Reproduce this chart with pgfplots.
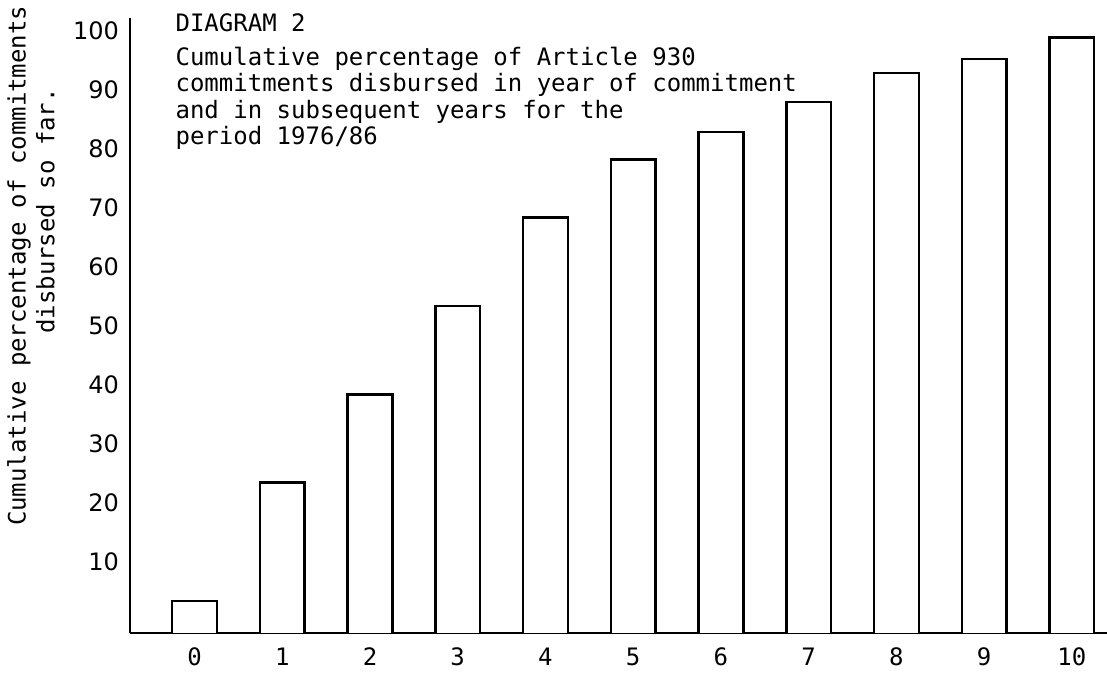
\documentclass[border=0pt]{standalone}
\usepackage{pgfplots}
\pgfplotsset{compat=1.18}
\usepackage{fontspec}
\setmainfont{DejaVu Sans Mono}
\newfontfamily\tickfont{DejaVu Sans}
\begin{document}
\begin{tikzpicture}
\useasboundingbox (0,0) rectangle (553.5pt,340pt);
\begin{axis}[
  at={(65pt,23.6pt)}, anchor=south west,
  scale only axis, width=488.5pt, height=307.4pt,
  xmin=-0.735, xmax=10.4, ymin=-2, ymax=102.2,
  axis x line=bottom, axis y line=left,
  axis line style={-, line width=1.3pt},
  major tick length=0pt,
  xtick={0,...,10}, ytick={10,20,...,100},
  /pgf/number format/assume math mode=true,
  xticklabel style={font=\fontsize{12}{12}\selectfont, yshift=-4pt},
  yticklabel style={font=\tickfont\fontsize{12}{12}\selectfont, xshift=-2pt},
  clip=false, unbounded coords=jump,
]
% each bar: bottom-left, top-left, top-right, bottom-right (bars stand on the baseline at -2)
\addplot[draw=black, fill=white, line width=1.2pt, line join=miter, mark=none] coordinates {
  (-0.255,-2) (-0.255,3.4) (0.255,3.4) (0.255,-2) (0.5,nan)
  (0.745,-2) (0.745,23.5) (1.255,23.5) (1.255,-2) (1.5,nan)
  (1.745,-2) (1.745,38.4) (2.255,38.4) (2.255,-2) (2.5,nan)
  (2.745,-2) (2.745,53.4) (3.255,53.4) (3.255,-2) (3.5,nan)
  (3.745,-2) (3.745,68.4) (4.255,68.4) (4.255,-2) (4.5,nan)
  (4.745,-2) (4.745,78.2) (5.255,78.2) (5.255,-2) (5.5,nan)
  (5.745,-2) (5.745,82.9) (6.255,82.9) (6.255,-2) (6.5,nan)
  (6.745,-2) (6.745,88) (7.255,88) (7.255,-2) (7.5,nan)
  (7.745,-2) (7.745,92.9) (8.255,92.9) (8.255,-2) (8.5,nan)
  (8.745,-2) (8.745,95.3) (9.255,95.3) (9.255,-2) (9.5,nan)
  (9.745,-2) (9.745,98.9) (10.255,98.9) (10.255,-2)
};
\node[anchor=base west, font=\fontsize{12}{12}\selectfont, inner sep=0pt] at (axis cs:-0.22,99.9) {DIAGRAM 2};
\node[anchor=base west, font=\fontsize{12}{12}\selectfont, inner sep=0pt] at (axis cs:-0.22,94.2) {Cumulative percentage of Article 930};
\node[anchor=base west, font=\fontsize{12}{12}\selectfont, inner sep=0pt] at (axis cs:-0.22,89.7) {commitments disbursed in year of commitment};
\node[anchor=base west, font=\fontsize{12}{12}\selectfont, inner sep=0pt] at (axis cs:-0.22,85.2) {and in subsequent years for the};
\node[anchor=base west, font=\fontsize{12}{12}\selectfont, inner sep=0pt] at (axis cs:-0.22,80.7) {period 1976/86};
\node[rotate=90, font=\fontsize{12}{12}\selectfont, inner sep=0pt] at (axis cs:-2.0,60.2) {Cumulative percentage of commitments};
\node[rotate=90, font=\fontsize{12}{12}\selectfont, inner sep=0pt] at (axis cs:-1.7,69.5) {disbursed so far.};
\end{axis}
\end{tikzpicture}
\end{document}
